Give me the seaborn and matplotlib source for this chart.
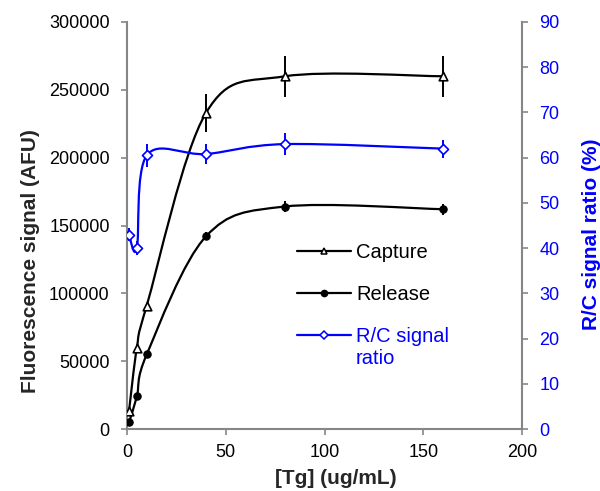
import numpy as np
import pandas as pd
import matplotlib
matplotlib.use("Agg")
import matplotlib.pyplot as plt
import seaborn as sns
from matplotlib.path import Path
from matplotlib.patches import PathPatch
from matplotlib.lines import Line2D

# ---- data ----
tg = [1, 5, 10, 40, 80, 160]
capture = [13000, 60000, 91000, 233000, 260000, 260000]
capture_err = [1000, 1500, 2000, 14000, 15000, 15000]
release = [5000, 24000, 55000, 142000, 164000, 162000]
release_err = [500, 1000, 1500, 3000, 4000, 4000]
ratio = [43, 40, 60.5, 60.8, 63, 62]
ratio_err = [1.5, 1.5, 2.5, 2.3, 2.5, 2.0]

x_ticks = [0, 50, 100, 150, 200]
y_ticks = [0, 50000, 100000, 150000, 200000, 250000, 300000]
y2_ticks = [0, 10, 20, 30, 40, 50, 60, 70, 80, 90]

BLUE = "#0000FF"
GREY = "#868686"
FONT = "Liberation Sans"

sns.set_theme(style="white")
plt.rcParams["font.family"] = [FONT, "DejaVu Sans"]


def smooth_path(x, y):
    """Excel-like smoothed line: cubic Bezier through the points."""
    pts = np.column_stack([x, y]).astype(float)
    n = len(pts)
    verts = [pts[0]]
    codes = [Path.MOVETO]
    for i in range(n - 1):
        p0 = pts[i - 1] if i > 0 else pts[i]
        p1 = pts[i]
        p2 = pts[i + 1]
        p3 = pts[i + 2] if i + 2 < n else pts[i + 1]
        c1 = p1 + (p2 - p0) / 6.0
        c2 = p2 - (p3 - p1) / 6.0
        verts += [c1, c2, p2]
        codes += [Path.CURVE4] * 3
    return Path(verts, codes)


df = pd.DataFrame({"tg": tg, "capture": capture, "release": release, "ratio": ratio})

fig = plt.figure(figsize=(6, 4.91), dpi=100)
ax = fig.add_axes([127 / 600, 62 / 491, 395 / 600, 407 / 491])
ax2 = ax.twinx()

# curves
ax.add_patch(PathPatch(smooth_path(tg, capture), fill=False, edgecolor="black", lw=1.6, zorder=2))
ax.add_patch(PathPatch(smooth_path(tg, release), fill=False, edgecolor="black", lw=1.6, zorder=2))
ax2.add_patch(PathPatch(smooth_path(tg, ratio), fill=False, edgecolor=BLUE, lw=1.6, zorder=2))

# error bars
ax.errorbar(tg, capture, yerr=capture_err, fmt="none", ecolor="black", elinewidth=1.4, capsize=0, zorder=3)
ax.errorbar(tg, release, yerr=release_err, fmt="none", ecolor="black", elinewidth=1.4, capsize=0, zorder=3)
ax2.errorbar(tg, ratio, yerr=ratio_err, fmt="none", ecolor=BLUE, elinewidth=1.4, capsize=0, zorder=3)

# markers
sns.scatterplot(data=df, x="tg", y="capture", ax=ax, marker="^", s=38,
                facecolor="white", edgecolor="black", linewidth=1.2, zorder=4)
sns.scatterplot(data=df, x="tg", y="release", ax=ax, marker="o", s=28,
                color="black", edgecolor="black", linewidth=0.8, zorder=4)
sns.scatterplot(data=df, x="tg", y="ratio", ax=ax2, marker="D", s=26,
                facecolor="white", edgecolor=BLUE, linewidth=1.2, zorder=4)

# axes limits & ticks
ax.set_xlim(0, 200)
ax.set_ylim(0, 300000)
ax2.set_ylim(0, 90)
ax.set_xticks(x_ticks)
ax.set_yticks(y_ticks)
ax2.set_yticks(y2_ticks)
ax.set_xticklabels([str(v) for v in x_ticks])
ax.set_yticklabels([str(v) for v in y_ticks])
ax2.set_yticklabels([str(v) for v in y2_ticks])

for a in (ax, ax2):
    a.set_facecolor("none")
    a.grid(False)
    for s in a.spines.values():
        s.set_visible(False)

for name in ("left", "bottom"):
    ax.spines[name].set_visible(True)
    ax.spines[name].set_color(GREY)
    ax.spines[name].set_linewidth(1.5)
ax2.spines["right"].set_visible(True)
ax2.spines["right"].set_color(GREY)
ax2.spines["right"].set_linewidth(1.5)

ax.tick_params(axis="both", which="major", direction="out", length=4.5, width=1.2,
               color=GREY, labelsize=13, labelcolor="black")
ax.tick_params(axis="y", pad=8)
ax.tick_params(axis="x", pad=6)
ax.tick_params(left=True, bottom=True)
ax2.tick_params(axis="y", direction="out", length=4.5, width=1.2, color=GREY,
                labelsize=13, labelcolor=BLUE, pad=8, right=True)

ax.set_xlabel("[Tg] (ug/mL)", fontsize=15, fontweight="bold")
ax.set_ylabel("Fluorescence signal (AFU)", fontsize=15, fontweight="bold")
ax2.set_ylabel("R/C signal ratio (%)", fontsize=15, fontweight="bold", color=BLUE)
ax.xaxis.set_label_coords(0.529, -0.098)
ax.yaxis.set_label_coords(-0.22, 0.4115)
ax2.yaxis.set_label_coords(1.152, 0.479)

# legend
handles = [
    Line2D([], [], color="black", lw=1.6, marker="^", markersize=5,
           markerfacecolor="white", markeredgecolor="black", markeredgewidth=1.1),
    Line2D([], [], color="black", lw=1.6, marker="o", markersize=4.5,
           markerfacecolor="black", markeredgecolor="black"),
    Line2D([], [], color=BLUE, lw=1.6, marker="D", markersize=4,
           markerfacecolor="white", markeredgecolor=BLUE, markeredgewidth=1.1),
]
labels = ["Capture", "Release", "R/C signal"]
leg = fig.legend(handles, labels, loc="upper left",
                 bbox_to_anchor=(297 / 600, 1 - 243 / 491),
                 frameon=False, fontsize=14.5, handlelength=2.68, handletextpad=0.25,
                 labelspacing=1.14, borderpad=0, borderaxespad=0,
                 labelcolor=["black", "black", BLUE])
fig.canvas.draw()
bb = leg.get_texts()[2].get_window_extent()
fig.text(bb.x0 / 600, (bb.y0 - 22) / 491, "ratio", fontsize=14.5, color=BLUE,
         ha="left", va="bottom")

fig.savefig("out.png", dpi=100)
